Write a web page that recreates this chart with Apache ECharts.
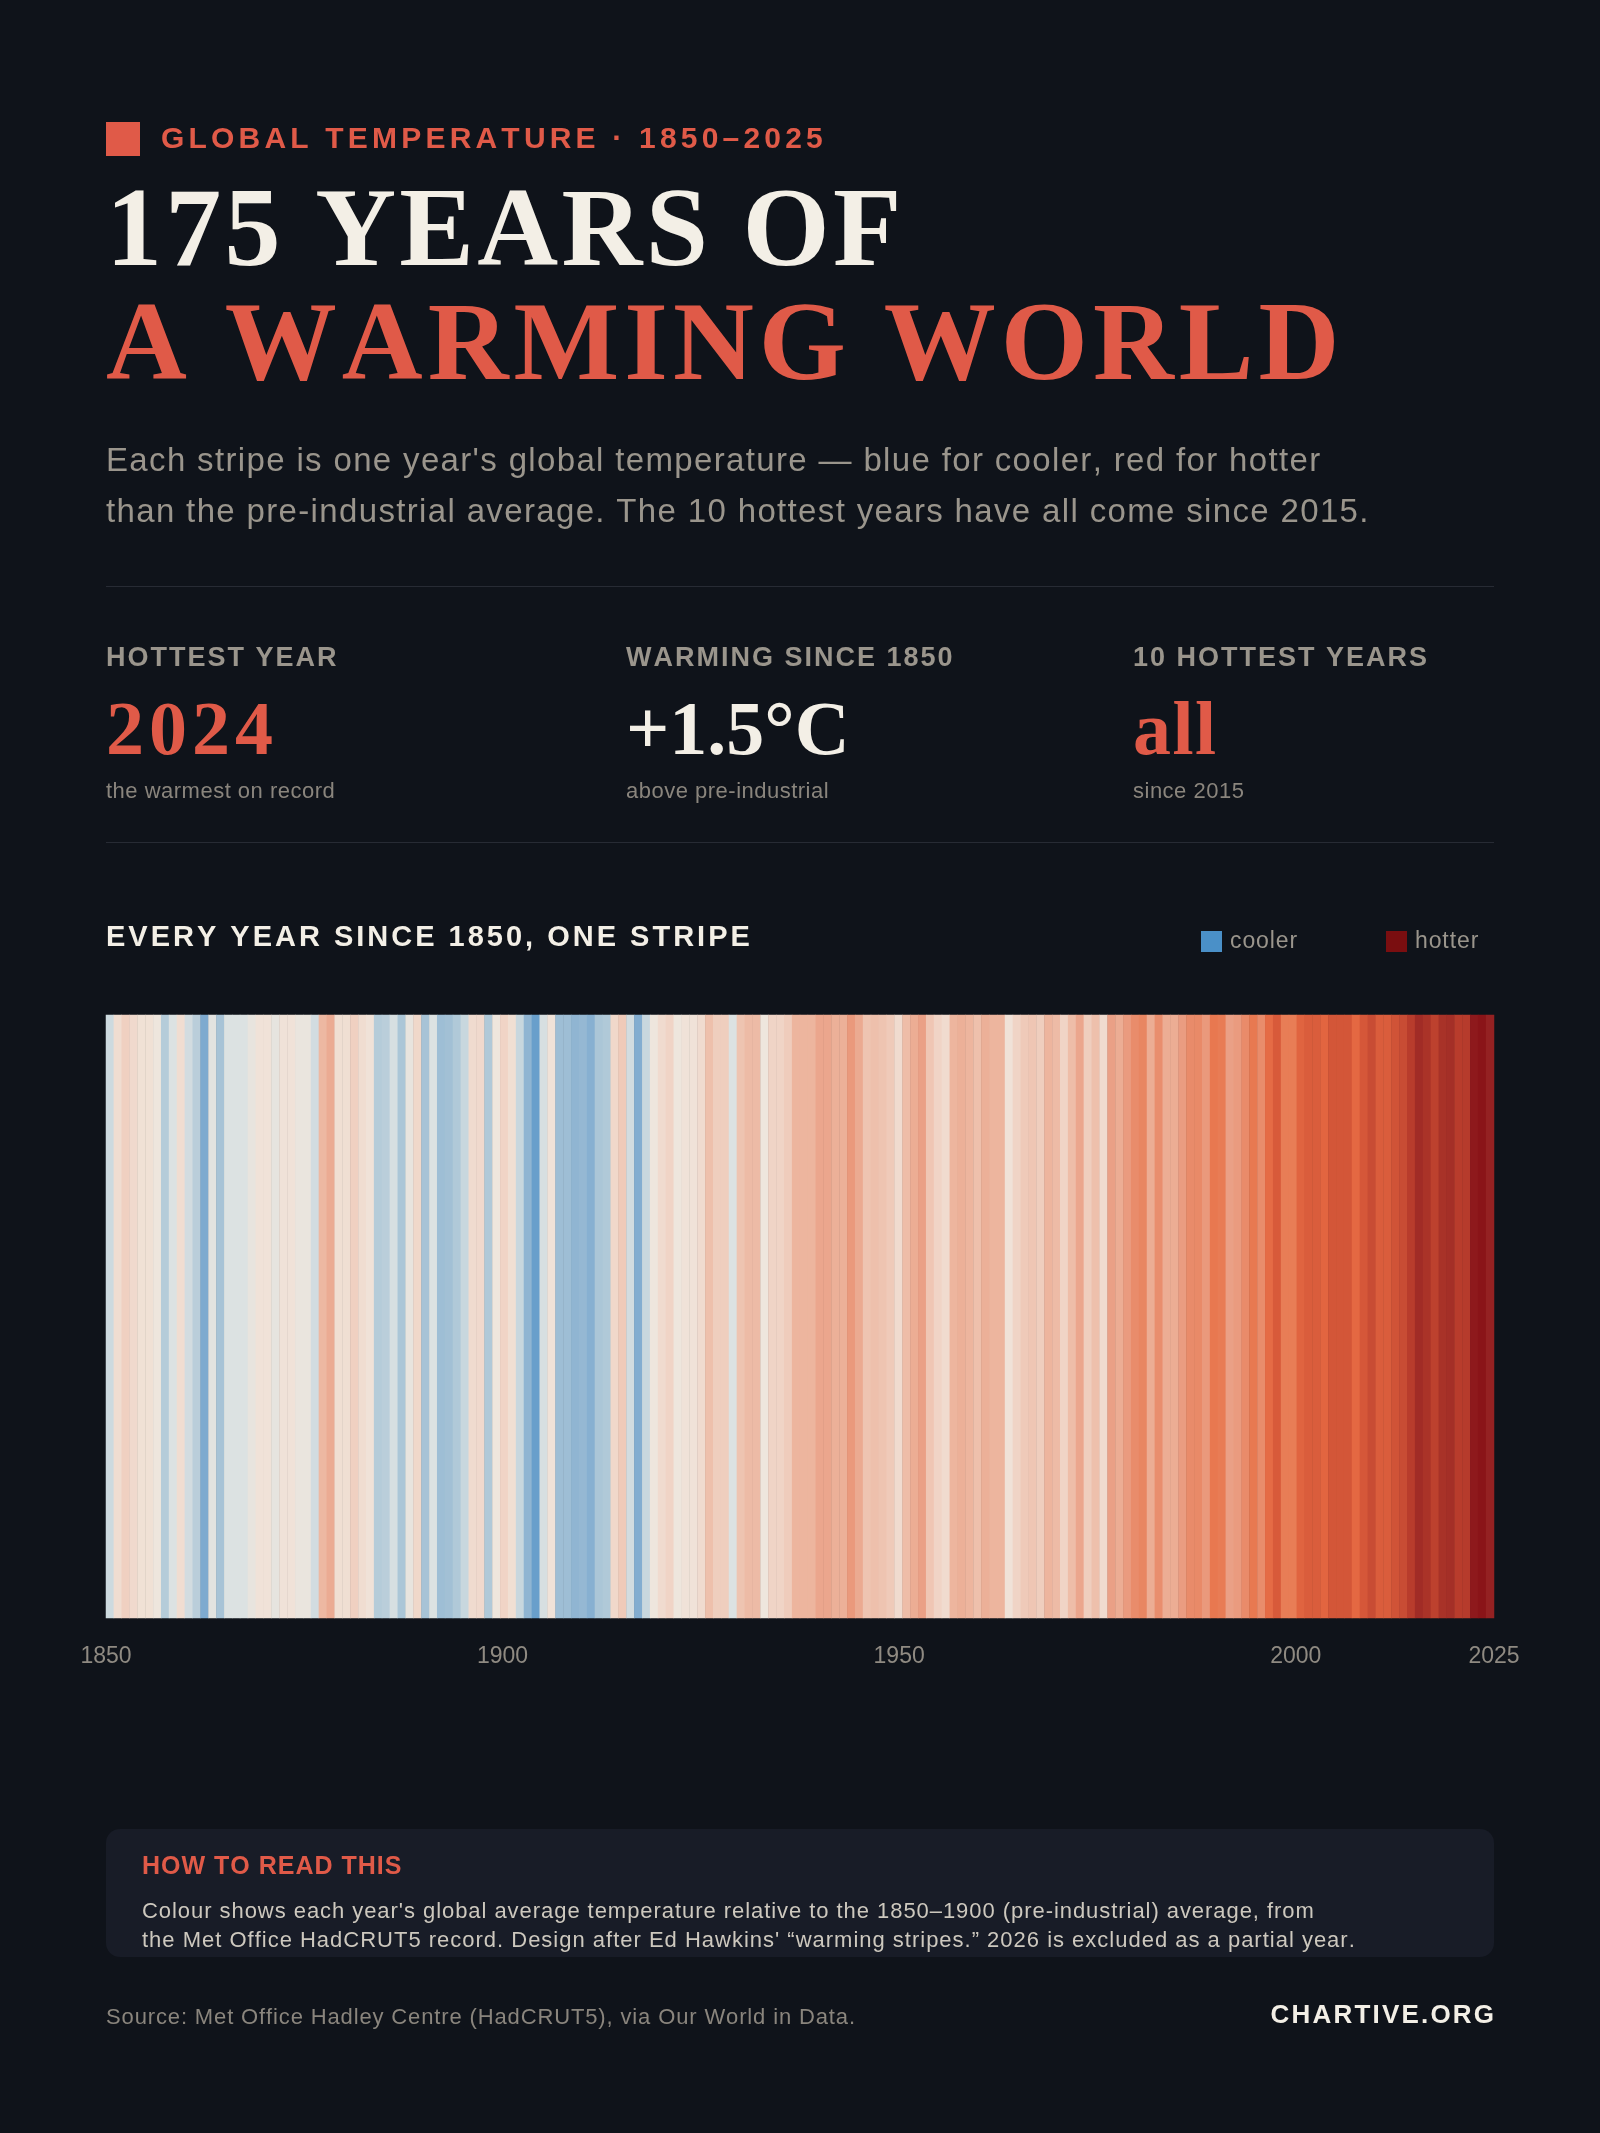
<!DOCTYPE html>
<html>
<head>
<meta charset="utf-8">
<script src="https://cdn.jsdelivr.net/npm/echarts@6/dist/echarts.min.js"></script>
<style>
html,body{margin:0;padding:0;background:#0f131a;}
#c{width:1600px;height:2133px;}
</style>
</head>
<body>
<div id="c"></div>
<script>
// ---------------- DATA ----------------
const startYear = 1850;
// Global temperature anomaly vs 1850–1900 average (°C), HadCRUT5, read from the stripes
const anomalies = [
  -0.03, 0.15, 0.22, 0.17, 0.13, 0.13, 0.09, -0.08, 0.00, 0.15,   // 1850s
  -0.02, -0.07, -0.20, 0.03, -0.11, 0.00, 0.00, 0.00, 0.06, 0.12,  // 1860s
  0.12, 0.05, 0.12, 0.12, 0.07, 0.07, -0.02, 0.35, 0.43, 0.14,     // 1870s
  0.14, 0.22, 0.15, 0.12, -0.08, -0.07, -0.01, -0.10, 0.06, 0.18,  // 1880s
  -0.11, 0.00, -0.13, -0.12, -0.09, -0.04, 0.16, 0.17, -0.09, 0.09, // 1890s
  0.20, 0.14, -0.04, -0.16, -0.26, -0.01, 0.12, -0.13, -0.13, -0.16, // 1900s
  -0.15, -0.18, -0.10, -0.09, 0.18, 0.25, -0.02, -0.19, -0.04, 0.09, // 1910s
  0.16, 0.20, 0.09, 0.12, 0.12, 0.16, 0.30, 0.23, 0.23, 0.00,      // 1920s
  0.28, 0.33, 0.33, 0.09, 0.20, 0.20, 0.24, 0.37, 0.37, 0.37,      // 1930s
  0.46, 0.46, 0.40, 0.40, 0.54, 0.44, 0.28, 0.30, 0.28, 0.25,      // 1940s
  0.16, 0.32, 0.42, 0.50, 0.27, 0.20, 0.16, 0.37, 0.40, 0.37,      // 1950s
  0.30, 0.40, 0.37, 0.37, 0.12, 0.20, 0.25, 0.27, 0.23, 0.37,      // 1960s
  0.33, 0.20, 0.32, 0.46, 0.23, 0.30, 0.16, 0.50, 0.42, 0.53,      // 1970s
  0.62, 0.68, 0.42, 0.60, 0.42, 0.42, 0.52, 0.63, 0.64, 0.54,      // 1980s
  0.80, 0.77, 0.50, 0.53, 0.63, 0.79, 0.62, 0.88, 1.00, 0.76,      // 1990s
  0.76, 0.93, 0.98, 0.98, 0.92, 1.03, 1.03, 1.03, 0.90, 1.02,      // 2000s
  1.10, 0.98, 0.98, 1.05, 1.10, 1.20, 1.34, 1.29, 1.17, 1.30,      // 2010s
  1.32, 1.20, 1.21, 1.47, 1.53, 1.42                               // 2020s
];
const years = anomalies.map((_, i) => String(startYear + i));
const axisYears = [1850, 1900, 1950, 2000, 2025];

const statLabels = ['HOTTEST YEAR', 'WARMING SINCE 1850', '10 HOTTEST YEARS'];
const statValues = ['2024', '+1.5°C', 'all'];
const statNotes = ['the warmest on record', 'above pre-industrial', 'since 2015'];
const legendLabels = ['cooler', 'hotter'];

// ---------------- STYLE ----------------
const BG = '#0f131a';
const RED = '#e05a48';
const CREAM = '#f3efe6';
const GREY = '#9a958c';
const SANS = '"Liberation Sans", Arial, Helvetica, sans-serif';
const SERIF = '"Liberation Serif", "Times New Roman", serif';
const stripeColors = [
  '#5b97c8', '#7eaacf', '#abc6d7', '#dce2e2', '#f0e6dc', '#f0d4c6', '#eec0ac',
  '#ecb098', '#eaa086', '#e98e6e', '#e8845f', '#e87850', '#e46842', '#d85a3a',
  '#c84c34', '#b83c2c', '#a83228', '#962424', '#8a1418'
];

function tracked(str) {
  return str.split('').map(ch => '{c|' + ch + '}').join('{g| }');
}
function text(x, y, str, o) {
  const st = {
    text: o.gap ? tracked(str) : str,
    fill: o.color,
    fontSize: o.size,
    fontFamily: o.family || SANS,
    fontWeight: o.weight || 'normal',
    align: o.align || 'left',
    verticalAlign: 'middle',
    textAlign: o.align || 'left',
    textVerticalAlign: 'middle'
  };
  if (o.gap) {
    st.rich = {
      c: { fill: o.color, fontSize: o.size, fontFamily: o.family || SANS, fontWeight: o.weight || 'normal' },
      g: { fontSize: o.gap / 0.278, fontFamily: SANS }
    };
  }
  return { type: 'text', x: x, y: y, silent: true, style: st };
}
function rect(x, y, w, h, fill, r) {
  return { type: 'rect', silent: true, shape: { x: x, y: y, width: w, height: h, r: r || 0 }, style: { fill: fill } };
}

const statX = [106, 626, 1133];
const statValueColors = [RED, CREAM, RED];
const statValueGaps = [5, 0, 1.5];

const elements = [
  rect(106, 122, 34, 34, RED),
  text(161, 140, 'GLOBAL TEMPERATURE · 1850–2025', { color: RED, size: 30, weight: 'bold', gap: 4.2 }),
  text(106, 236, '175 YEARS OF', { color: CREAM, size: 112, weight: 'bold', family: SERIF, gap: 3.3 }),
  text(106, 350, 'A WARMING WORLD', { color: RED, size: 112, weight: 'bold', family: SERIF, gap: 5 }),
  text(106, 462, "Each stripe is one year's global temperature — blue for cooler, red for hotter", { color: GREY, size: 33, gap: 1.35 }),
  text(106, 513, 'than the pre-industrial average. The 10 hottest years have all come since 2015.', { color: GREY, size: 33, gap: 1.35 }),
  rect(106, 586, 1388, 1, '#272b34'),
  rect(106, 842, 1388, 1, '#272b34'),
  text(106, 938, 'EVERY YEAR SINCE 1850, ONE STRIPE', { color: CREAM, size: 29, weight: 'bold', gap: 3.0 }),
  rect(1201, 931, 21, 21, '#4a90c8'),
  text(1230, 942, legendLabels[0], { color: GREY, size: 23, gap: 0.9 }),
  rect(1386, 931, 21, 21, '#7a0e10'),
  text(1415, 942, legendLabels[1], { color: GREY, size: 23, gap: 0.9 }),
  rect(106, 1829, 1388, 128, '#181c27', 14),
  text(142, 1867, 'HOW TO READ THIS', { color: RED, size: 25, weight: 'bold', gap: 1 }),
  text(142, 1912, "Colour shows each year's global average temperature relative to the 1850–1900 (pre-industrial) average, from", { color: '#cdc8be', size: 22, gap: 0.95 }),
  text(142, 1941, "the Met Office HadCRUT5 record. Design after Ed Hawkins' “warming stripes.” 2026 is excluded as a partial year.", { color: '#cdc8be', size: 22, gap: 1.0 }),
  text(106, 2018, 'Source: Met Office Hadley Centre (HadCRUT5), via Our World in Data.', { color: '#8a857d', size: 22, gap: 0.87 }),
  text(1494, 2016, 'CHARTIVE.ORG', { color: CREAM, size: 26, weight: 'bold', align: 'right', gap: 2.2 })
];
statLabels.forEach((l, i) => {
  elements.push(text(statX[i], 659, l, { color: GREY, size: 27, weight: 'bold', gap: 2.0 }));
  elements.push(text(statX[i], 734, statValues[i], { color: statValueColors[i], size: 76, weight: 'bold', family: SERIF, gap: statValueGaps[i] }));
  elements.push(text(statX[i], 792, statNotes[i], { color: '#8a857d', size: 22, gap: 0.5 }));
});

const chart = echarts.init(document.getElementById('c'), null, { renderer: 'canvas', width: 1600, height: 2133 });
chart.setOption({
  backgroundColor: BG,
  animation: false,
  grid: { left: 106, right: 106, top: 1015, height: 603, containLabel: false },
  xAxis: [
    { type: 'category', data: years, show: false, boundaryGap: true },
    {
      type: 'value', min: 1850, max: 2025, position: 'bottom',
      axisLine: { show: false }, axisTick: { show: false }, splitLine: { show: false },
      axisLabel: {
        customValues: axisYears, color: '#8f8a82', fontSize: 23, fontFamily: SANS, margin: 27,
        formatter: v => String(v)
      }
    }
  ],
  yAxis: { type: 'category', data: ['anomaly'], show: false },
  visualMap: {
    show: false, type: 'continuous', min: -0.3, max: 1.5, dimension: 2, seriesIndex: 0,
    inRange: { color: stripeColors }
  },
  series: [{
    type: 'heatmap', xAxisIndex: 0, yAxisIndex: 0,
    data: anomalies.map((v, i) => [i, 0, v]),
    itemStyle: { borderWidth: 0 },
    emphasis: { disabled: true }
  }],
  graphic: { elements: elements }
});
</script>
</body>
</html>
